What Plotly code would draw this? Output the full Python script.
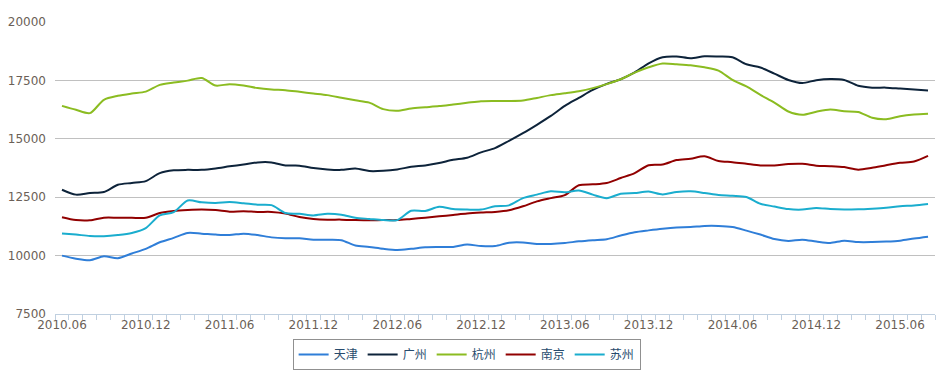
import plotly.graph_objects as go

# Monthly categories 2010.06 .. 2015.08
months = [f"{y}.{m:02d}" for y in range(2010, 2016) for m in range(1, 13)]
months = months[months.index("2010.06"):months.index("2015.08") + 1]
tick_labels = ["2010.06", "2010.12", "2011.06", "2011.12", "2012.06", "2012.12",
               "2013.06", "2013.12", "2014.06", "2014.12", "2015.06"]

tianjin = [10000, 9870, 9800, 9970, 9890, 10090, 10290, 10570, 10760, 10970,
           10940, 10900, 10880, 10940, 10880, 10780, 10740, 10740, 10680, 10680,
           10660, 10430, 10370, 10290, 10240, 10290, 10360, 10370, 10370, 10470,
           10410, 10410, 10550, 10560, 10500, 10500, 10540, 10610, 10660, 10700,
           10860, 11000, 11080, 11150, 11200, 11220, 11270, 11270, 11220, 11070,
           10900, 10710, 10630, 10680, 10600, 10540, 10640, 10580, 10580, 10600,
           10640, 10730, 10810]
guangzhou = [12820, 12610, 12680, 12720, 13030, 13110, 13190, 13530, 13650, 13670,
             13670, 13730, 13820, 13900, 13990, 13990, 13860, 13850, 13750, 13690,
             13670, 13730, 13620, 13630, 13690, 13800, 13860, 13960, 14100, 14190,
             14420, 14600, 14910, 15240, 15600, 15980, 16410, 16750, 17090, 17350,
             17550, 17840, 18230, 18490, 18520, 18450, 18530, 18520, 18490, 18190,
             18050, 17790, 17520, 17390, 17510, 17560, 17520, 17270, 17190, 17190,
             17150, 17110, 17070]
hangzhou = [16410, 16240, 16100, 16670, 16840, 16940, 17020, 17310, 17410, 17490,
            17600, 17280, 17340, 17280, 17170, 17110, 17080, 17010, 16940, 16870,
            16760, 16650, 16550, 16270, 16200, 16300, 16350, 16400, 16470, 16540,
            16610, 16620, 16620, 16640, 16750, 16870, 16950, 17040, 17170, 17340,
            17550, 17830, 18060, 18220, 18190, 18150, 18060, 17920, 17520, 17240,
            16880, 16550, 16170, 16030, 16160, 16250, 16180, 16150, 15900, 15840,
            15970, 16040, 16070]
nanjing = [11640, 11520, 11510, 11620, 11620, 11620, 11620, 11820, 11910, 11950,
           11970, 11950, 11880, 11900, 11870, 11870, 11800, 11650, 11570, 11540,
           11540, 11520, 11510, 11520, 11520, 11570, 11620, 11680, 11740, 11800,
           11840, 11870, 11940, 12110, 12320, 12460, 12590, 13010, 13050, 13110,
           13320, 13530, 13870, 13900, 14090, 14150, 14250, 14050, 14000, 13930,
           13860, 13860, 13920, 13930, 13850, 13830, 13790, 13680, 13760, 13870,
           13970, 14030, 14270]
suzhou = [10950, 10900, 10840, 10830, 10880, 10970, 11180, 11720, 11860, 12360,
          12280, 12250, 12290, 12240, 12180, 12160, 11820, 11790, 11720, 11790,
          11750, 11620, 11570, 11520, 11520, 11920, 11910, 12090, 11990, 11970,
          11970, 12110, 12150, 12460, 12610, 12750, 12710, 12790, 12610, 12460,
          12650, 12680, 12740, 12620, 12720, 12750, 12680, 12590, 12560, 12510,
          12220, 12100, 11990, 11970, 12040, 11990, 11970, 11980, 12010, 12050,
          12110, 12150, 12210]

series = [("天津", tianjin, "#2f7ed8"), ("广州", guangzhou, "#0d233a"),
          ("杭州", hangzhou, "#8bbc21"), ("南京", nanjing, "#910000"),
          ("苏州", suzhou, "#1aadce")]

x_idx = list(range(len(months)))
fig = go.Figure()
for name, vals, color in series:
    fig.add_trace(go.Scatter(x=x_idx, y=vals, name=name, mode="lines",
                             customdata=months,
                             hovertemplate="%{customdata}: %{y}<extra>" + name + "</extra>",
                             line=dict(color=color, width=2, shape="spline", smoothing=0.8)))

label_color = "#6b5f57"
fig.update_layout(
    width=937, height=375,
    margin=dict(l=55, r=2, t=22, b=61),
    paper_bgcolor="white", plot_bgcolor="white",
    font=dict(family="DejaVu Sans, Noto Sans CJK SC", size=12, color=label_color),
    xaxis=dict(
        range=[-0.5, len(months) - 0.5],
        tickmode="array",
        tickvals=[months.index(t) for t in tick_labels],
        ticktext=tick_labels,
        ticks="", showgrid=False, zeroline=False,
        showline=True, linecolor="#c0d0e0", linewidth=1,
        tickfont=dict(size=12, color=label_color),
        minor=dict(ticks="outside", tickmode="linear", tick0=-0.5, dtick=1,
                   ticklen=5, tickcolor="#c0d0e0", showgrid=False),
    ),
    yaxis=dict(
        range=[7500, 20000], dtick=2500, tick0=7500,
        showgrid=True, gridcolor="#c0c0c0", gridwidth=1,
        zeroline=False, showline=False, ticks="",
        tickformat="d", ticklabelstandoff=8,
        tickfont=dict(size=12, color=label_color),
    ),
    legend=dict(
        orientation="h", xref="container", yref="container",
        x=0.498, xanchor="center", y=1 - 339 / 375, yanchor="top",
        bordercolor="#909090", borderwidth=1,
        font=dict(family="Noto Sans CJK SC", size=12, color="#274b6d"),
        itemwidth=30, tracegroupgap=0,
    ),
    showlegend=True,
)

fig.write_html("out.html",
               config={"displayModeBar": False},
               post_script="document.body.style.margin='0';document.body.style.overflow='hidden';")
